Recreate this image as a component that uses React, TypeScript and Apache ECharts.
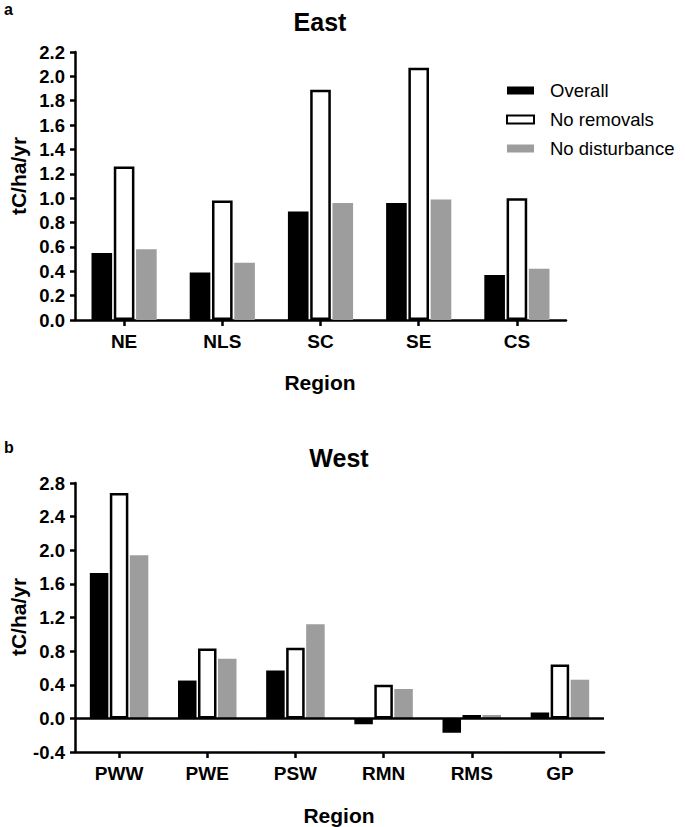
import React, { useEffect, useRef } from "react";
import * as echarts from "echarts";

const eastCategories = ["NE", "NLS", "SC", "SE", "CS"];
const eastOverall = [0.55, 0.39, 0.89, 0.96, 0.37];
const eastNoRemovals = [1.26, 0.98, 1.89, 2.07, 1.0];
const eastNoDisturbance = [0.58, 0.47, 0.96, 0.99, 0.42];

const westCategories = ["PWW", "PWE", "PSW", "RMN", "RMS", "GP"];
const westOverall = [1.73, 0.45, 0.57, -0.07, -0.17, 0.07];
const westNoRemovals = [2.68, 0.83, 0.84, 0.4, 0.04, 0.64];
const westNoDisturbance = [1.94, 0.71, 1.12, 0.35, 0.04, 0.46];

const seriesNames = ["Overall", "No removals", "No disturbance"];
const panelTitles = ["East", "West"];
const panelLetters = ["a", "b"];
const xAxisTitle = "Region";
const yAxisTitle = "tC/ha/yr";

const FONT = "'Liberation Sans', Arial, Helvetica, sans-serif";
const GRAY = "#9d9d9d";

export default function App() {
  const ref = useRef<HTMLDivElement>(null);

  useEffect(() => {
    if (!ref.current) return;
    const chart = echarts.init(ref.current, undefined, { renderer: "svg" });

    const styles = [
      { color: "#000", borderColor: "#000", borderWidth: 0 },
      { color: "#fff", borderColor: "#000", borderWidth: 2.5 },
      { color: GRAY, borderColor: GRAY, borderWidth: 0 },
    ];

    const makeXAxis = (gridIndex: number, data: string[]) => ({
      type: "category",
      gridIndex,
      data,
      boundaryGap: true,
      axisLine: { show: true, onZero: false, lineStyle: { color: "#000", width: 2.5 } },
      axisTick: { show: true, alignWithLabel: true, length: 6, lineStyle: { color: "#000", width: 2.5 } },
      axisLabel: { color: "#000", fontFamily: FONT, fontWeight: "bold", fontSize: 19, margin: 12 },
      splitLine: { show: false },
    });

    const makeYAxis = (gridIndex: number, min: number, max: number, interval: number) => ({
      type: "value",
      gridIndex,
      min,
      max,
      interval,
      axisLine: { show: true, lineStyle: { color: "#000", width: 2.5 } },
      axisTick: { show: true, length: 5, lineStyle: { color: "#000", width: 2.5 } },
      axisLabel: {
        color: "#000",
        fontFamily: FONT,
        fontWeight: "bold",
        fontSize: 18.5,
        margin: 10,
        formatter: (v: number) => v.toFixed(1),
      },
      splitLine: { show: false },
    });

    const eastData = [eastOverall, eastNoRemovals, eastNoDisturbance];
    const westData = [westOverall, westNoRemovals, westNoDisturbance];

    const series: any[] = [];
    eastData.forEach((d, i) => {
      series.push({
        type: "bar",
        name: seriesNames[i],
        xAxisIndex: 0,
        yAxisIndex: 0,
        data: d,
        barWidth: "21%",
        barGap: "8%",
        itemStyle: styles[i],
      });
    });
    westData.forEach((d, i) => {
      const s: any = {
        type: "bar",
        name: seriesNames[i],
        xAxisIndex: 1,
        yAxisIndex: 1,
        data: d,
        barWidth: "21%",
        barGap: "8%",
        itemStyle: styles[i],
      };
      if (i === 0) {
        s.markLine = {
          silent: true,
          symbol: ["none", "none"],
          label: { show: false },
          lineStyle: { color: "#000", width: 2.5, type: "solid" },
          data: [{ yAxis: 0 }],
        };
      }
      series.push(s);
    });

    const textStyleBase = { fill: "#000", fontFamily: FONT, fontWeight: "bold" };

    chart.setOption({
      animation: false,
      backgroundColor: "#fff",
      grid: [
        { left: 75, right: 119, top: 52, bottom: 507 },
        { left: 75, right: 81, top: 483, bottom: 75 },
      ],
      xAxis: [makeXAxis(0, eastCategories), makeXAxis(1, westCategories)],
      yAxis: [makeYAxis(0, 0, 2.2, 0.2), makeYAxis(1, -0.4, 2.8, 0.4)],
      legend: {
        data: seriesNames,
        orient: "vertical",
        left: 506,
        top: 81,
        padding: 0,
        itemWidth: 27,
        itemHeight: 8,
        itemGap: 10,
        icon: "rect",
        selectedMode: false,
        textStyle: { color: "#000", fontFamily: FONT, fontSize: 18.5, padding: [0, 0, 0, 11] },
      },
      graphic: [
        { type: "text", left: 4, top: 1, style: { ...textStyleBase, text: panelLetters[0], fontSize: 16 } },
        { type: "text", left: 4, top: 439, style: { ...textStyleBase, text: panelLetters[1], fontSize: 16 } },
        {
          type: "text",
          x: 320,
          y: 22,
          style: { ...textStyleBase, text: panelTitles[0], fontSize: 25, textAlign: "center", textVerticalAlign: "middle" },
        },
        {
          type: "text",
          x: 339,
          y: 458,
          style: { ...textStyleBase, text: panelTitles[1], fontSize: 25, textAlign: "center", textVerticalAlign: "middle" },
        },
        {
          type: "text",
          x: 320,
          y: 382,
          style: { ...textStyleBase, text: xAxisTitle, fontSize: 21, textAlign: "center", textVerticalAlign: "middle" },
        },
        {
          type: "text",
          x: 339,
          y: 815,
          style: { ...textStyleBase, text: xAxisTitle, fontSize: 21, textAlign: "center", textVerticalAlign: "middle" },
        },
        {
          type: "text",
          x: 18,
          y: 176,
          rotation: Math.PI / 2,
          style: { ...textStyleBase, text: yAxisTitle, fontSize: 21, textAlign: "center", textVerticalAlign: "middle" },
        },
        {
          type: "text",
          x: 18,
          y: 617,
          rotation: Math.PI / 2,
          style: { ...textStyleBase, text: yAxisTitle, fontSize: 21, textAlign: "center", textVerticalAlign: "middle" },
        },
      ],
      series,
    });

    return () => chart.dispose();
  }, []);

  return (
    <div
      ref={ref}
      style={{ position: "fixed", left: 0, top: 0, width: 685, height: 827, background: "#fff" }}
    />
  );
}
